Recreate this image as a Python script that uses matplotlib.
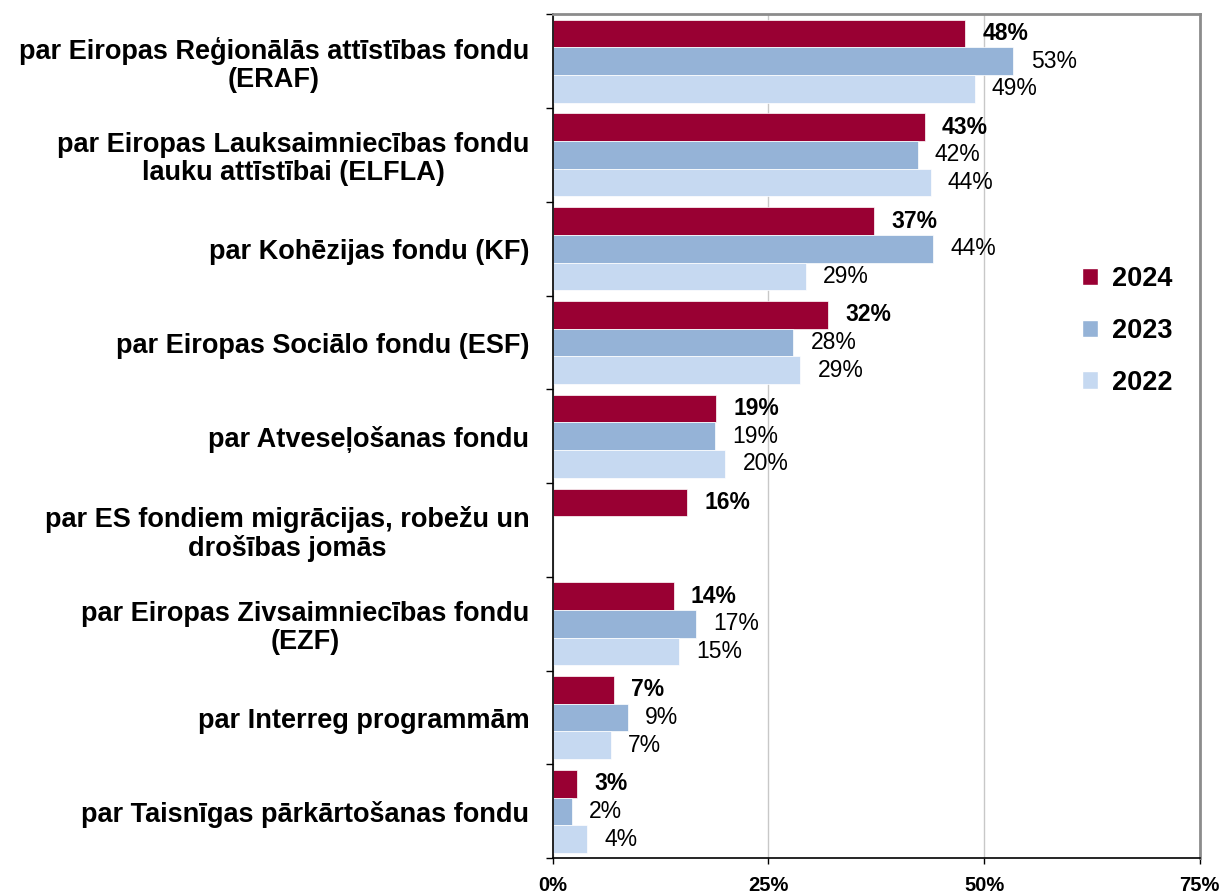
import numpy as np
import matplotlib.pyplot as plt
from matplotlib.patches import Patch

plt.rcParams['font.family'] = ['Liberation Sans', 'DejaVu Sans']

categories = [
    "par Eiropas Reģionālās attīstības fondu\n(ERAF)",
    "par Eiropas Lauksaimniecības fondu\nlauku attīstībai (ELFLA)",
    "par Kohēzijas fondu (KF)",
    "par Eiropas Sociālo fondu (ESF)",
    "par Atveseļošanas fondu",
    "par ES fondiem migrācijas, robežu un\ndrošības jomās",
    "par Eiropas Zivsaimniecības fondu\n(EZF)",
    "par Interreg programmām",
    "par Taisnīgas pārkārtošanas fondu",
]
years = ["2024", "2023", "2022"]
v2024 = [47.8, 43.1, 37.2, 31.9, 18.9, 15.6, 14.0, 7.1, 2.8]
v2023 = [53.4, 42.3, 44.1, 27.9, 18.8, np.nan, 16.6, 8.7, 2.2]
v2022 = [48.9, 43.8, 29.3, 28.7, 20.0, np.nan, 14.6, 6.7, 4.0]
colors = ["#990033", "#95B3D7", "#C6D9F1"]

fig = plt.figure(figsize=(12.23, 8.94), dpi=100)
ax = fig.add_axes([0.452, 0.040, 0.529, 0.944])

y = np.arange(len(categories))
h = 0.295
series = [v2024, v2023, v2022]
for i, (vals, c) in enumerate(zip(series, colors)):
    pos = y + (i - 1) * h
    for p, v in zip(pos, vals):
        if np.isnan(v):
            continue
        ax.barh(p, v, height=h, color=c, edgecolor="white", linewidth=0.5)
        ax.text(v + 2.0, p, "{:.0f}%".format(v), va="center", ha="left",
                fontsize=16.5, fontweight="bold" if i == 0 else "normal")

ax.set_xlim(0, 75)
ax.set_ylim(len(categories) - 0.5, -0.5)
ax.set_xticks([0, 25, 50, 75])
ax.set_xticklabels(["0%", "25%", "50%", "75%"], fontsize=14.5, fontweight="bold")
ax.xaxis.grid(True, color="#c8c8c8", linewidth=1)
ax.set_axisbelow(True)

ax.set_yticks(y)
ax.set_yticklabels(categories, fontsize=19.5, fontweight="bold", ha="right",
                   multialignment="center", linespacing=1.1)
ax.tick_params(axis="y", length=0, pad=17)
ax.set_yticks(np.arange(len(categories) + 1) - 0.5, minor=True)
ax.tick_params(axis="y", which="minor", length=5, width=1, direction="out")
ax.tick_params(axis="x", length=4, width=1, direction="out", pad=9)

for s in ["left", "bottom"]:
    ax.spines[s].set_color("black")
    ax.spines[s].set_linewidth(1.2)
for s in ["top", "right"]:
    ax.spines[s].set_color("#8c8c8c")
    ax.spines[s].set_linewidth(2)

handles = [Patch(facecolor=c, edgecolor="white", label=l) for c, l in zip(colors, years)]
leg = ax.legend(handles=handles, loc="center left", bbox_to_anchor=(0.78, 0.625),
                frameon=False, handlelength=0.6, handleheight=0.6,
                handletextpad=0.5, labelspacing=0.95,
                prop={"size": 19.5, "weight": "bold"})

fig.savefig("out.png", dpi=100)
